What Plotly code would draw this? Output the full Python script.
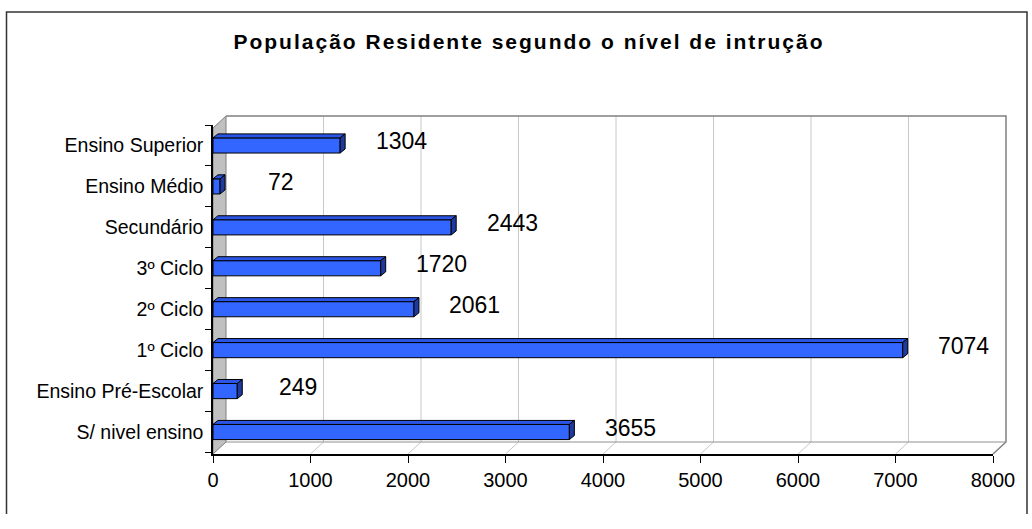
import plotly.graph_objects as go

categorias = ["S/ nivel ensino", "Ensino Pré-Escolar", "1º Ciclo", "2º Ciclo",
              "3º Ciclo", "Secundário", "Ensino Médio", "Ensino Superior"]
populacao = [3655, 249, 7074, 2061, 1720, 2443, 72, 1304]
x_ticks = [0, 1000, 2000, 3000, 4000, 5000, 6000, 7000, 8000]
titulo = "População Residente segundo o nível de intrução"

# geometria (pixels)
W, H = 1032, 529
ml, mr, mt, mb = 213, 39, 125, 75
plot_w = W - ml - mr
plot_h = H - mt - mb
x_max = 8000
y_range = [-0.5375, 7.5]
px_unit = plot_w / x_max
wall_dx, wall_dy = 13, 12
wall_top = 338
bar_dx, bar_dy = 5, 4
bar_w = 0.37
hh = bar_w * plot_h / (y_range[1] - y_range[0]) / 2

fonte = "Liberation Sans, Arial, sans-serif"

fig = go.Figure()
fig.add_bar(y=categorias, x=populacao, orientation="h", width=bar_w,
            marker=dict(color="#3366FF", line=dict(color="black", width=1)))

shapes = []
pix = dict(xref="paper", xsizemode="pixel", xanchor=0,
           yref="paper", ysizemode="pixel", yanchor=0, layer="below")

# parede do fundo e chão
shapes.append(dict(type="path", **pix,
                   path=f"M{wall_dx},{wall_dy} L{wall_dx},{wall_top} L{plot_w + wall_dx},{wall_top} "
                        f"L{plot_w + wall_dx},{wall_dy} Z",
                   fillcolor="white", line=dict(width=0)))
# parede lateral
shapes.append(dict(type="path", **pix,
                   path=f"M0,0 L0,{wall_top - wall_dy} L{wall_dx},{wall_top} L{wall_dx},{wall_dy} Z",
                   fillcolor="#C0C0C0", line=dict(color="#808080", width=1)))

# grelha na parede e no chão
for t in x_ticks[1:-1]:
    shapes.append(dict(type="path", xref="x", xsizemode="pixel", xanchor=t,
                       yref="paper", ysizemode="pixel", yanchor=0, layer="below",
                       path=f"M0,0 L{wall_dx},{wall_dy} L{wall_dx},{wall_top}",
                       line=dict(color="#C8C8C8", width=1)))

# arestas da parede e do chão
shapes.append(dict(type="path", **pix,
                   path=f"M{wall_dx},{wall_top} L{plot_w + wall_dx},{wall_top} "
                        f"L{plot_w + wall_dx},{wall_dy} L{plot_w},0",
                   line=dict(color="#808080", width=1.5)))
shapes.append(dict(type="path", **pix,
                   path=f"M{wall_dx},{wall_dy} L{plot_w + wall_dx},{wall_dy}",
                   line=dict(color="#909090", width=1)))

# moldura exterior
shapes.append(dict(type="path", **pix,
                   path=f"M{6.5 - ml},{-60} L{6.5 - ml},{H - mb - 12} L{W - 5 - ml},{H - mb - 12} "
                        f"L{W - 5 - ml},{-60}",
                   line=dict(color="#333333", width=1.5)))

# faces 3D das barras
dxu = bar_dx / px_unit
for c, v in zip(categorias, populacao):
    shapes.append(dict(type="path", xref="x", yref="y", ysizemode="pixel", yanchor=c,
                       path=f"M0,{hh} L{v},{hh} L{v + dxu},{hh + bar_dy} L{dxu},{hh + bar_dy} Z",
                       fillcolor="#2B55E6", line=dict(color="black", width=1)))
    shapes.append(dict(type="path", xref="x", xsizemode="pixel", xanchor=v,
                       yref="y", ysizemode="pixel", yanchor=c,
                       path=f"M0,{-hh} L{bar_dx},{-hh + bar_dy} L{bar_dx},{hh + bar_dy} L0,{hh} Z",
                       fillcolor="#1F3A9E", line=dict(color="black", width=1)))

anot = []
for c, v in zip(categorias, populacao):
    anot.append(dict(x=v, y=c, xref="x", yref="y", text=str(v), showarrow=False,
                     xanchor="center", xshift=61, yshift=4,
                     font=dict(family=fonte, size=23, color="black")))

fig.update_layout(
    width=W, height=H, margin=dict(l=ml, r=mr, t=mt, b=mb),
    paper_bgcolor="white", plot_bgcolor="rgba(0,0,0,0)",
    showlegend=False, bargap=0.6,
    title=dict(text=titulo, x=529 / W, xanchor="center", xref="container",
               y=1 - 42 / H, yanchor="middle",
               font=dict(family=fonte, size=21, color="black", weight="bold")),
    shapes=shapes, annotations=anot,
)
fig.update_xaxes(range=[0, x_max], tickvals=x_ticks, showgrid=False, zeroline=False,
                 showline=True, linecolor="black", linewidth=1.5, automargin=False,
                 ticks="outside", ticklen=7, tickcolor="black",
                 tickfont=dict(family=fonte, size=20, color="black"), ticklabelstandoff=0)
fig.update_yaxes(type="category", range=y_range, showgrid=False, zeroline=False,
                 showline=True, linecolor="black", linewidth=1.5, automargin=False,
                 ticks="outside", ticklen=6, tickcolor="black", tickson="boundaries",
                 tickfont=dict(family=fonte, size=19.5, color="black"), ticklabelstandoff=4)

# sem margem na página; espaçamento das letras do título, como no original
extra = ("document.body.style.margin='0';"
         "document.querySelectorAll('.gtitle').forEach(function(t){t.setAttribute('letter-spacing','2px');});")
fig.write_html("out.html", post_script=extra, config={"displayModeBar": False})
